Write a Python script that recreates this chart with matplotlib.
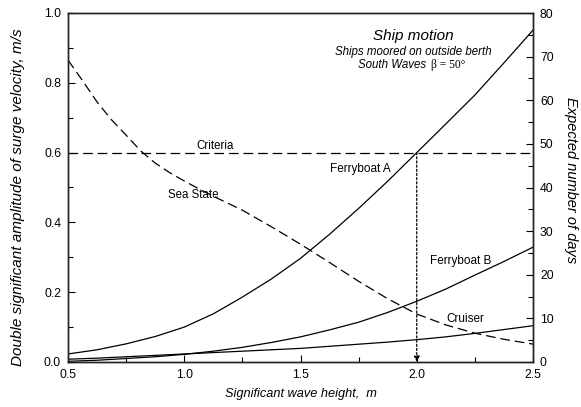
import matplotlib
matplotlib.use("Agg")
import matplotlib.pyplot as plt
from matplotlib.ticker import MultipleLocator, FormatStrFormatter

plt.rcParams['font.family'] = ['Liberation Sans', 'DejaVu Sans']
plt.rcParams['lines.scale_dashes'] = False

# ---- data ----
wave_height = [0.5, 0.625, 0.75, 0.875, 1.0, 1.125, 1.25, 1.375, 1.5,
               1.625, 1.75, 1.875, 2.0, 2.125, 2.25, 2.375, 2.5]
ferryboat_a = [0.023, 0.035, 0.052, 0.073, 0.100, 0.138, 0.186, 0.238, 0.297,
               0.366, 0.440, 0.518, 0.600, 0.682, 0.765, 0.857, 0.951]
ferryboat_b = [0.002, 0.005, 0.010, 0.015, 0.022, 0.031, 0.042, 0.056, 0.072,
               0.092, 0.114, 0.142, 0.174, 0.209, 0.249, 0.288, 0.329]
cruiser = [0.008, 0.011, 0.015, 0.019, 0.023, 0.027, 0.031, 0.035, 0.039,
           0.045, 0.051, 0.057, 0.064, 0.072, 0.082, 0.093, 0.104]
sea_state_height = [0.5, 0.5625, 0.625, 0.6875, 0.75, 0.8125, 0.875, 0.9375,
                    1.0, 1.0625, 1.125, 1.25, 1.375, 1.5, 1.625, 1.75, 1.875,
                    2.0, 2.125, 2.25, 2.375, 2.5]
sea_state_days = [69.2, 64.5, 59.6, 55.5, 52.0, 48.4, 45.6, 43.4,
                  41.5, 39.7, 38.0, 34.8, 31.0, 27.0, 22.8, 18.5, 14.5,
                  11.0, 8.5, 6.6, 5.2, 4.1]
criteria = 0.6
criteria_height = 2.0

fig = plt.figure(figsize=(5.81, 4.07), dpi=100)
ax = fig.add_axes([68/581, 1-362/407, (533-68)/581, (362-13)/407])
ax2 = ax.twinx()

lw = 0.9
ax.plot(wave_height, ferryboat_a, color='black', lw=lw)
ax.plot(wave_height, ferryboat_b, color='black', lw=lw)
ax.plot(wave_height, cruiser, color='black', lw=lw)
ax.plot([wave_height[0], wave_height[-1]], [criteria, criteria], color='black',
        lw=lw, dashes=(7, 3.5))
ax2.plot(sea_state_height, sea_state_days, color='black', lw=lw, dashes=(7, 3.5))

# dotted vertical with arrow
ax.annotate('', xy=(criteria_height, 0.0), xytext=(criteria_height, criteria),
            arrowprops=dict(arrowstyle='-|>', linestyle=(0, (1.5, 1.5)), lw=0.9,
                            color='black', mutation_scale=8, shrinkA=0, shrinkB=0))

ax.set_xlim(0.5, 2.5)
ax.set_ylim(0.0, 1.0)
ax2.set_ylim(0, 80)

ax.xaxis.set_major_locator(MultipleLocator(0.5))
ax.xaxis.set_minor_locator(MultipleLocator(0.25))
ax.yaxis.set_major_locator(MultipleLocator(0.2))
ax.yaxis.set_minor_locator(MultipleLocator(0.1))
ax.xaxis.set_major_formatter(FormatStrFormatter('%.1f'))
ax.yaxis.set_major_formatter(FormatStrFormatter('%.1f'))
ax2.yaxis.set_major_locator(MultipleLocator(10))
ax2.yaxis.set_minor_locator(MultipleLocator(5))

for a in (ax, ax2):
    a.tick_params(which='major', direction='in', length=5, width=0.8, labelsize=8.7)
    a.tick_params(which='minor', direction='in', length=3.5, width=0.8)
    for s in a.spines.values():
        s.set_linewidth(1.0)
        s.set_color('#222222')
ax.tick_params(axis='x', which='both', top=False, pad=5)
ax.tick_params(axis='y', which='both', right=False, pad=5)
ax2.tick_params(axis='y', which='both', pad=5)

ax.set_xlabel('Significant wave height,  m', fontsize=9.2, style='italic', labelpad=5)
fig.text(18/581, 1-197/407, 'Double significant amplitude of surge velocity, m/s',
         rotation=90, fontsize=11, style='italic', ha='center', va='center')
fig.text(571/581, 1-180/407, 'Expected number of days', rotation=-90, fontsize=10.5,
         style='italic', ha='center', va='center')


def label(px, py, s, **kw):
    fig.text(px/581, 1-py/407, s, ha='center', va='center', **kw)


label(215, 146, 'Criteria', fontsize=8.3)
label(193, 195, 'Sea State', fontsize=8.3)
label(360, 169, 'Ferryboat A', fontsize=8.5)
label(461, 261, 'Ferryboat B', fontsize=8.5)
label(465, 319, 'Cruiser', fontsize=8.5)

label(413, 36, 'Ship motion', fontsize=11, style='italic')
label(413, 52, 'Ships moored on outside berth', fontsize=8.3, style='italic')
fig.text(429/581, 1-65/407, 'South Waves ', ha='right', va='center', fontsize=8.3,
         style='italic')
fig.text(431/581, 1-65/407, 'β = 50°', ha='left', va='center', fontsize=8.3,
         family='Liberation Serif')

fig.savefig('out.png', dpi=100)
